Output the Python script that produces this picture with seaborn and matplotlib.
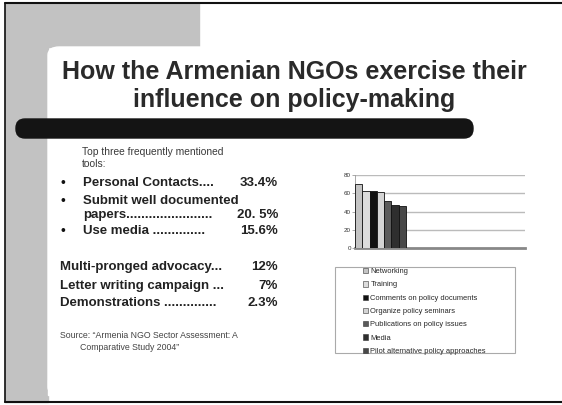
import numpy as np
import pandas as pd
import matplotlib
matplotlib.use('Agg')
import matplotlib.pyplot as plt
import seaborn as sns
from matplotlib.patches import Rectangle, FancyBboxPatch, Patch

# data
methods = ['Networking', 'Training', 'Comments on policy documents',
           'Organize policy seminars', 'Publications on policy issues',
           'Media', 'Pilot alternative policy approaches']
shares = [70, 63, 63, 61.5, 52, 47, 46]
bar_colors = ['#c4c4c4', '#dcdcdc', '#111111', '#d4d4d4', '#5a5a5a', '#2e2e2e', '#484848']

top_tools = ['Personal Contacts....', 'Use media ..............']
top_pcts = ['33.4%', '15.6%']
other_tools = ['Multi-pronged advocacy...', 'Letter writing campaign ...', 'Demonstrations ..............']
other_pcts = ['12%', '7%', '2.3%']

sns.set_theme(style='white')
plt.rcParams['font.family'] = ['Liberation Sans', 'DejaVu Sans']

W, H = 562, 405
fig = plt.figure(figsize=(5.62, 4.05), dpi=100)
fig.patch.set_facecolor('white')


def fx(x):
    return x / W


def fy(y):
    return 1 - y / H


# slide decoration
fig.patches.append(Rectangle((fx(5), fy(402)), fx(43) - fx(0), fy(3) - fy(402),
                             transform=fig.transFigure, color='#c2c2c2', zorder=0))
fig.patches.append(Rectangle((fx(5), fy(47)), fx(199) - fx(5), fy(3) - fy(47),
                             transform=fig.transFigure, color='#c2c2c2', zorder=0))
fig.patches.append(FancyBboxPatch((fx(48), fy(395)), fx(560) - fx(48), fy(47) - fy(395),
                                  boxstyle='round,pad=0,rounding_size=0.02',
                                  transform=fig.transFigure, color='white', zorder=1))
fig.patches.append(Rectangle((fx(48), fy(395)), fx(30), fy(380) - fy(395),
                             transform=fig.transFigure, color='white', zorder=1))
fig.patches.append(FancyBboxPatch((fx(16), fy(138)), fx(473) - fx(16), fy(119) - fy(138),
                                  boxstyle='round,pad=0,rounding_size=0.016',
                                  transform=fig.transFigure, color='#141414', zorder=2,
                                  mutation_aspect=1.4))
fig.lines.append(plt.Line2D([fx(5), fx(562)], [fy(3), fy(3)], transform=fig.transFigure,
                            color='#111111', lw=1.5))
fig.lines.append(plt.Line2D([fx(5), fx(562)], [fy(402), fy(402)], transform=fig.transFigure,
                            color='#111111', lw=1.5))
fig.lines.append(plt.Line2D([fx(5), fx(5)], [fy(3), fy(402)], transform=fig.transFigure,
                            color='#111111', lw=1.2))

# title
fig.text(fx(294), fy(72), 'How the Armenian NGOs exercise their', ha='center', va='center',
         fontsize=18, fontweight='bold', color='#2a2a2a', zorder=3)
fig.text(fx(294), fy(100), 'influence on policy-making', ha='center', va='center',
         fontsize=18, fontweight='bold', color='#2a2a2a', zorder=3)

# left text block
fig.text(fx(82), fy(152), 'Top three frequently mentioned', fontsize=7.4, va='center', color='#3a3a3a')
fig.text(fx(82), fy(164), 'tools:', fontsize=7.4, va='center', color='#3a3a3a')
bold = dict(fontsize=9.5, fontweight='bold', va='center', color='#222222')
for yy in [183, 201, 231]:
    fig.text(fx(63), fy(yy), '\u2022', fontsize=10, va='center', ha='center', color='#111111')
fig.text(fx(83), fy(183), top_tools[0], **bold)
fig.text(fx(278), fy(183), top_pcts[0], ha='right', **bold)
fig.text(fx(83), fy(201), 'Submit well documented', **bold)
fig.text(fx(83), fy(215), 'papers.......................', **bold)
fig.text(fx(278), fy(215), '20. 5%', ha='right', **bold)
fig.text(fx(83), fy(231), top_tools[1], **bold)
fig.text(fx(278), fy(231), top_pcts[1], ha='right', **bold)
for yy, name, pct in zip([267, 286, 303], other_tools, other_pcts):
    fig.text(fx(60), fy(yy), name, **bold)
    fig.text(fx(278), fy(yy), pct, ha='right', **bold)
fig.text(fx(60), fy(336), 'Source: \u201cArmenia NGO Sector Assessment: A', fontsize=6.3,
         va='center', color='#444444')
fig.text(fx(80), fy(347), 'Comparative Study 2004\u201d', fontsize=6.3, va='center', color='#444444')

# bar chart
ax = fig.add_axes([fx(355), fy(248), fx(525) - fx(355), fy(175) - fy(248)])
ax.set_zorder(10)
df = pd.DataFrame({'method': methods, 'share': shares})
sns.barplot(data=df, x='method', y='share', hue='method', palette=bar_colors,
            legend=False, width=1.0, edgecolor='#111111', linewidth=0.6, ax=ax, zorder=3)
ax.set_xlim(-0.5, 22.8)
ax.set_ylim(0, 80)
ax.set_yticks([0, 20, 40, 60, 80])
ax.set_yticklabels(['0', '20', '40', '60', '80'], fontsize=4.5, color='#333333')
ax.tick_params(axis='y', length=2, width=0.5, color='#888888', pad=1, left=True)
ax.set_xticks([])
ax.set_xlabel('')
ax.set_ylabel('')
ax.patch.set_alpha(0)
for v in [20, 40, 60, 80]:
    ax.axhline(v, color='#bbbbbb', lw=1.0, zorder=1)
for s in ['top', 'right']:
    ax.spines[s].set_visible(False)
ax.spines['left'].set_color('#999999')
ax.spines['left'].set_linewidth(0.6)
ax.spines['bottom'].set_color('#888888')
ax.spines['bottom'].set_linewidth(2.0)

# legend box
fig.patches.append(Rectangle((fx(335), fy(353)), fx(515) - fx(335), fy(267) - fy(353),
                             transform=fig.transFigure, fill=False, ec='#aaaaaa', lw=0.8, zorder=3))
handles = [Patch(facecolor=c, edgecolor='#333333', linewidth=0.4) for c in bar_colors]
leg = fig.legend(handles, methods, loc='upper left', bbox_to_anchor=(fx(363), fy(268)),
                 frameon=False, fontsize=5.4, handlelength=0.7, handleheight=0.7,
                 handletextpad=0.3, labelspacing=0.8, borderaxespad=0, borderpad=0)
leg.set_zorder(11)

fig.savefig('out.png', dpi=100)
